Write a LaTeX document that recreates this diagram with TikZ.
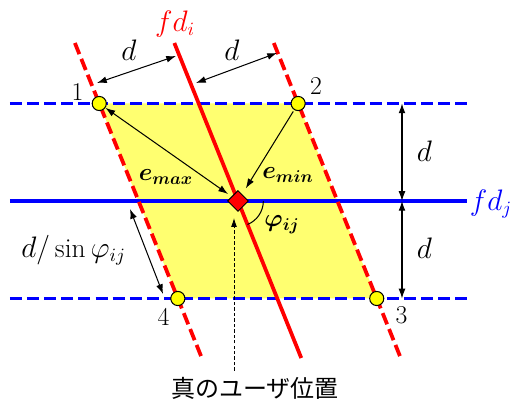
\documentclass[tikz,border=0pt]{standalone}
\usepackage{amsmath}
\usepackage{bm}
\usepackage{fontspec}
\newfontfamily\jpfont{Noto Sans CJK JP}
\usetikzlibrary{arrows.meta,positioning,calc,shapes.geometric}
\definecolor{fdRed}{RGB}{255,0,0}
\definecolor{fdBlue}{RGB}{0,0,255}
\definecolor{areaYellow}{RGB}{255,255,112}
\definecolor{markYellow}{RGB}{255,255,0}
\tikzset{
    fdLine/.style={line width=2.2pt},
    fdDash/.style={fdLine, dash pattern=on 7pt off 3pt},
    dimArrow/.style={
        {Latex[length=2mm,width=1.4mm]}-{Latex[length=2mm,width=1.4mm]},
        line width=0.6pt
    },
    errArrow/.style={-{Latex[length=2mm,width=1.4mm]}, line width=0.6pt},
    corner/.style={
        circle, 
        draw, 
        fill=markYellow, 
        line width=0.6pt, 
        minimum size=2.9mm, 
        inner sep=0pt
    },
    userMark/.style={
        diamond, 
        draw, 
        fill=fdRed, 
        line width=0.6pt, 
        minimum size=4.3mm, 
        inner sep=0pt
    }
}

\begin{document}
\begin{tikzpicture}[
    font=\fontsize{16}{18}\selectfont,
    num/.style={font=\fontsize{15}{17}\selectfont},
    errLabel/.style={font=\fontsize{14.4}{17}\selectfont},
    hintArrow/.style={-{Latex[length=1.8mm,width=1.2mm]}, line width=0.5pt, dash pattern=on 2pt off 1.2pt}
]
\useasboundingbox (-4.882,-4.144) rectangle (5.641,4.123);

% Corners of the area
\coordinate (c1) at (-2.846,2);
\coordinate (c2) at (1.234,2);
\coordinate (c3) at (2.846,-2);
\coordinate (c4) at (-1.234,-2);
\fill[areaYellow] (c1) -- (c2) -- (c3) -- (c4) -- cycle;

% fd_j and its band
\coordinate (jTopL) at (-4.68,2);
\coordinate (jTopR) at (4.70,2);
\coordinate (jMidL) at (-4.68,0);
\coordinate (jMidR) at (4.70,0);
\coordinate (jBotL) at (-4.68,-2);
\coordinate (jBotR) at (4.70,-2);
\draw[fdDash, fdBlue] (jTopL) -- (jTopR);
\draw[fdLine, fdBlue] (jMidL) -- (jMidR);
\draw[fdDash, fdBlue] (jBotL) -- (jBotR);
\node[text=fdBlue, anchor=west, inner sep=0pt] (fdj) at (4.75,-0.06) {$fd_j$};

% fd_i and its band
\coordinate (iTop) at (-1.306,3.241);
\coordinate (iBot) at (1.298,-3.221);
\coordinate (iLeftTop) at (-3.346,3.241);
\coordinate (iLeftBot) at (-0.742,-3.221);
\coordinate (iRightTop) at (0.734,3.241);
\coordinate (iRightBot) at (3.338,-3.221);
\draw[fdDash, fdRed] (iLeftTop) -- (iLeftBot);
\draw[fdDash, fdRed] (iRightTop) -- (iRightBot);
\draw[fdLine, fdRed] (iTop) -- (iBot);
\node[text=fdRed] (fdi) at (-1.292,3.63) {$fd_i$};

% Distances d
\coordinate (dA1) at (-2.892,2.421);
\coordinate (dA2) at (-1.272,2.974);
\coordinate (dB1) at (-0.862,2.421);
\coordinate (dB2) at (0.80,3.036);
\draw[dimArrow] (dA1) -- (dA2);
\draw[dimArrow] (dB1) -- (dB2);
\node (dA) at (-2.236,3.097) {$d$};
\node (dB) at (-0.123,3.097) {$d$};

\coordinate (vTop) at (3.364,2);
\coordinate (vMid) at (3.364,0);
\coordinate (vBot) at (3.364,-2);
\draw[dimArrow] (vTop) -- (vMid);
\draw[dimArrow] (vMid) -- (vBot);
\node (dC) at (3.826,1.026) {$d$};
\node (dD) at (3.826,-0.974) {$d$};

\coordinate (sA) at (-2.215,-0.164);
\coordinate (sB) at (-1.538,-1.908);
\draw[dimArrow] (sA) -- (sB);
\node (dsin) at (-3.374,-1.005) {$d/\sin\varphi_{ij}$};

% Corner points
\node[corner] (p1) at (c1) {};
\node[corner] (p2) at (c2) {};
\node[corner] (p3) at (c3) {};
\node[corner] (p4) at (c4) {};
\node[num] (n1) at (-3.29,2.236) {1};
\node[num] (n2) at (1.60,2.36) {2};
\node[num] (n3) at (3.354,-2.349) {3};
\node[num] (n4) at (-1.528,-2.369) {4};

% True position
\node[userMark] (user) at (0,0) {};
\draw[line width=0.6pt] ([shift={(0:0.52)}]user.center) arc[start angle=0, end angle=-68, radius=0.52];
\node[errLabel] (phi) at (0.903,-0.492) {$\bm{\varphi_{ij}}$};

\draw[dimArrow, shorten >=2.5pt] (p1) -- (user);
\draw[errArrow, shorten >=4pt, shorten <=1pt] (p2) -- (user);
\node[errLabel] (emax) at (-1.477,0.492) {$\bm{e_{max}}$};
\node[errLabel] (emin) at (1.026,0.533) {$\bm{e_{min}}$};

\node[font=\jpfont\fontsize{14}{16}\selectfont] (truePos) at (0.349,-3.836) {真のユーザ位置};
\coordinate (hintEnd) at (-0.082,-0.349);
\draw[hintArrow] (truePos.north -| hintEnd) -- (hintEnd);
\end{tikzpicture}
\end{document}
